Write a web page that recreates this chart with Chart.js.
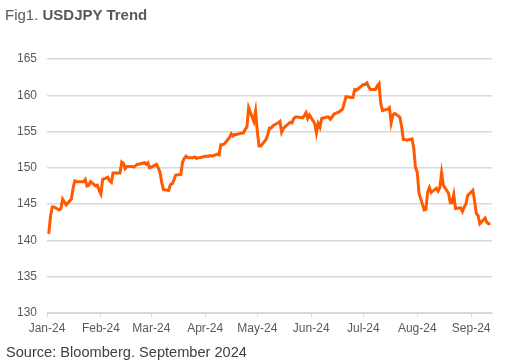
<!DOCTYPE html>
<html>
<head>
<meta charset="utf-8">
<script src="https://cdn.jsdelivr.net/npm/chart.js@4"></script>
<style>
  html, body { margin: 0; padding: 0; background: #fff; }
  body { width: 520px; height: 364px; position: relative; overflow: hidden; font-family: "Liberation Sans", Arial, sans-serif; }
  #title { position: absolute; left: 5px; top: 6px; font-size: 15px; color: #595959; }
  #title b { font-weight: bold; }
  #source { position: absolute; left: 6px; top: 344px; font-size: 14.6px; color: #404040; }
  #wrap { position: absolute; left: 0; top: 0; width: 520px; height: 364px; }
</style>
</head>
<body>
<div id="wrap"><canvas id="chart"></canvas></div>
<div id="title">Fig1. <b>USDJPY Trend</b></div>
<div id="source">Source: Bloomberg. September 2024</div>
<script>
// USDJPY daily close, 2024 (business days)
const dates = [
  '2024-01-02','2024-01-03','2024-01-04','2024-01-05','2024-01-08','2024-01-09','2024-01-10','2024-01-11','2024-01-12',
  '2024-01-15','2024-01-16','2024-01-17','2024-01-18','2024-01-19','2024-01-22','2024-01-23','2024-01-24','2024-01-25',
  '2024-01-26','2024-01-29','2024-01-30','2024-01-31',
  '2024-02-01','2024-02-02','2024-02-05','2024-02-06','2024-02-07','2024-02-08','2024-02-09','2024-02-12','2024-02-13',
  '2024-02-14','2024-02-15','2024-02-16','2024-02-19','2024-02-20','2024-02-21','2024-02-22','2024-02-23','2024-02-26',
  '2024-02-27','2024-02-28','2024-02-29',
  '2024-03-01','2024-03-04','2024-03-05','2024-03-06','2024-03-07','2024-03-08','2024-03-11','2024-03-12','2024-03-13',
  '2024-03-14','2024-03-15','2024-03-18','2024-03-19','2024-03-20','2024-03-21','2024-03-22','2024-03-25','2024-03-26',
  '2024-03-27','2024-03-28','2024-03-29',
  '2024-04-01','2024-04-02','2024-04-03','2024-04-04','2024-04-05','2024-04-08','2024-04-09','2024-04-10','2024-04-11',
  '2024-04-12','2024-04-15','2024-04-16','2024-04-17','2024-04-18','2024-04-19','2024-04-22','2024-04-23','2024-04-24',
  '2024-04-25','2024-04-26','2024-04-29','2024-04-30',
  '2024-05-01','2024-05-02','2024-05-03','2024-05-06','2024-05-07','2024-05-08','2024-05-09','2024-05-10','2024-05-13',
  '2024-05-14','2024-05-15','2024-05-16','2024-05-17','2024-05-20','2024-05-21','2024-05-22','2024-05-23','2024-05-24',
  '2024-05-27','2024-05-28','2024-05-29','2024-05-30','2024-05-31',
  '2024-06-03','2024-06-04','2024-06-05','2024-06-06','2024-06-07','2024-06-10','2024-06-11','2024-06-12','2024-06-13',
  '2024-06-14','2024-06-17','2024-06-18','2024-06-19','2024-06-20','2024-06-21','2024-06-24','2024-06-25','2024-06-26',
  '2024-06-27','2024-06-28',
  '2024-07-01','2024-07-02','2024-07-03','2024-07-04','2024-07-05','2024-07-08','2024-07-09','2024-07-10','2024-07-11',
  '2024-07-12','2024-07-15','2024-07-16','2024-07-17','2024-07-18','2024-07-19','2024-07-22','2024-07-23','2024-07-24',
  '2024-07-25','2024-07-26','2024-07-29','2024-07-30','2024-07-31',
  '2024-08-01','2024-08-02','2024-08-05','2024-08-06','2024-08-07','2024-08-08','2024-08-09','2024-08-12','2024-08-13',
  '2024-08-14','2024-08-15','2024-08-16','2024-08-19','2024-08-20','2024-08-21','2024-08-22','2024-08-23','2024-08-26',
  '2024-08-27','2024-08-28','2024-08-29','2024-08-30',
  '2024-09-02','2024-09-03','2024-09-04','2024-09-05','2024-09-06','2024-09-09','2024-09-10','2024-09-11','2024-09-12'
];
const usdjpy = [
  140.9,143.3,144.6,144.6,144.2,144.4,145.7,145.3,144.9,
  145.7,147.2,148.2,148.1,148.1,148.1,148.4,147.5,147.6,
  148.1,147.5,147.6,146.9,
  146.4,148.4,148.7,148.2,148.0,149.3,149.3,149.3,150.8,
  150.6,149.9,150.2,150.2,150.1,150.3,150.5,150.5,150.7,
  150.5,150.7,150.0,
  150.1,150.5,150.0,149.4,148.0,147.0,146.9,147.7,147.8,
  148.3,149.0,149.1,150.8,151.3,151.6,151.4,151.4,151.5,
  151.3,151.4,151.4,
  151.6,151.6,151.6,151.7,151.6,151.9,151.8,153.2,153.2,
  153.3,154.2,154.7,154.4,154.6,154.6,154.8,154.8,155.3,
  155.6,158.3,156.4,157.8,
  155.0,153.0,153.0,153.9,154.6,155.5,155.5,155.8,156.2,
  156.4,154.9,155.4,155.7,156.3,156.2,156.8,157.0,157.0,
  156.9,157.2,157.6,156.8,157.3,
  156.1,154.8,156.1,155.6,156.8,157.0,157.0,156.7,157.0,
  157.4,157.7,157.9,158.1,158.9,159.8,159.7,159.7,160.8,
  160.7,160.9,
  161.5,161.5,161.7,161.2,160.8,160.8,161.3,161.6,158.9,
  157.9,158.1,158.3,156.2,157.3,157.5,157.0,155.7,153.9,
  153.9,153.8,154.0,152.7,150.0,
  149.4,146.5,144.2,144.3,146.7,147.3,146.6,147.2,146.8,
  147.3,149.3,147.6,146.5,145.2,145.2,146.3,144.4,144.5,
  144.0,144.6,145.0,146.2,
  146.9,145.4,143.7,143.4,142.3,143.1,142.5,142.3,142.4
];
const monthStarts = ['2024-01-01','2024-02-01','2024-03-01','2024-04-01','2024-05-01','2024-06-01','2024-07-01','2024-08-01','2024-09-01'];
const monthLabels = ['Jan-24','Feb-24','Mar-24','Apr-24','May-24','Jun-24','Jul-24','Aug-24','Sep-24'];
const yTicks = [130, 135, 140, 145, 150, 155, 160, 165];

const t0 = Date.UTC(2024, 0, 1);
const dayOf = s => (Date.parse(s + 'T00:00:00Z') - t0) / 86400000;
const tickDays = monthStarts.map(dayOf);

const CHART = document.getElementById('chart');
const chart = new Chart(CHART, {
  type: 'line',
  data: {
    datasets: [{
      data: dates.map((d, i) => ({ x: dayOf(d), y: usdjpy[i] })),
      borderColor: '#ff5a00',
      borderWidth: 3,
      pointRadius: 0,
      tension: 0,
      fill: false
    }]
  },
  options: {
    responsive: true,
    maintainAspectRatio: false,
    animation: false,
    layout: { padding: { left: 0, right: 28, top: 59, bottom: 0 } },
    plugins: { legend: { display: false }, tooltip: { enabled: false } },
    scales: {
      x: {
        type: 'linear',
        min: 0,
        max: 256,
        afterBuildTicks: scale => { scale.ticks = tickDays.map(v => ({ value: v })); },
        afterFit: scale => { scale.height = 51; },
        ticks: {
          autoSkip: false,
          maxRotation: 0,
          padding: 4,
          color: '#595959',
          font: { family: 'Liberation Sans', size: 12 },
          callback: v => monthLabels[tickDays.indexOf(v)]
        },
        grid: { drawOnChartArea: false, drawTicks: true, tickLength: 4, color: '#d9d9d9' },
        border: { display: true, color: '#d9d9d9' }
      },
      y: {
        min: 130,
        max: 165,
        afterBuildTicks: scale => { scale.ticks = yTicks.map(v => ({ value: v })); },
        afterFit: scale => { scale.width = 47; },
        ticks: {
          padding: 10,
          color: '#595959',
          font: { family: 'Liberation Sans', size: 12 }
        },
        grid: { color: '#d9d9d9', lineWidth: 1.5, drawTicks: false },
        border: { display: false }
      }
    }
  }
});
</script>
</body>
</html>
